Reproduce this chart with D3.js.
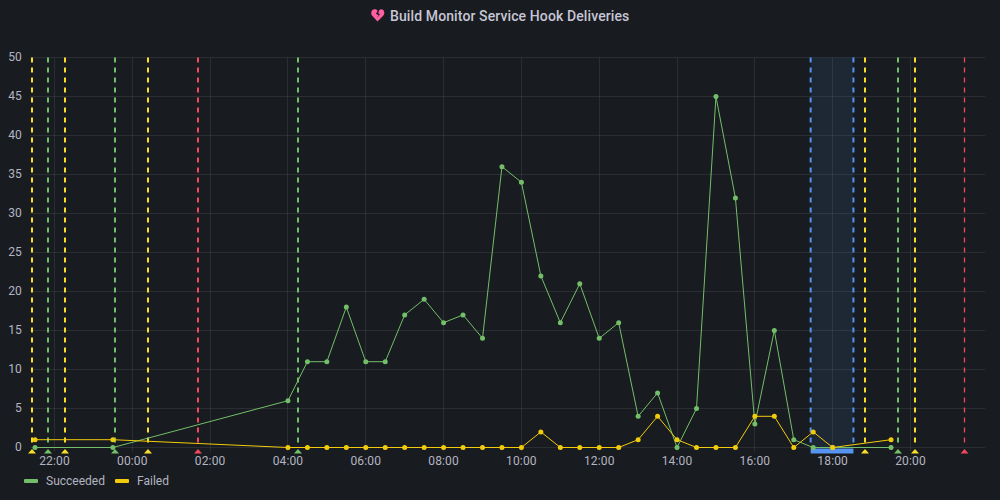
<!DOCTYPE html>
<html>
<head>
<meta charset="utf-8">
<script src="https://d3js.org/d3.v7.min.js"></script>
<style>
  html, body { margin: 0; padding: 0; background: #181b1f; }
  svg { display: block; }
  text { font-family: Roboto, sans-serif; }
  .title { fill: #c6c6d6; font-size: 14px; font-weight: 500; letter-spacing: 0.11px; }
  .tick-label { font-size: 12px; fill: #b4b5c2; letter-spacing: 0.15px; }
  .legend { font-size: 12px; fill: #b4b5c2; }
</style>
</head>
<body>
<svg id="chart" width="1000" height="500"></svg>
<script>
const titleText = 'Build Monitor Service Hook Deliveries';

// half hour buckets, the gaps are real (nothing was delivered overnight)
const times = [
  '21:30', '23:30', '04:00', '04:30', '05:00', '05:30', '06:00', '06:30',
  '07:00', '07:30', '08:00', '08:30', '09:00', '09:30', '10:00', '10:30',
  '11:00', '11:30', '12:00', '12:30', '13:00', '13:30', '14:00', '14:30',
  '15:00', '15:30', '16:00', '16:30', '17:00', '17:30', '18:00', '19:30'
];
const succeeded = [
  0, 0, 6, 11, 11, 18, 11, 11,
  17, 19, 16, 17, 14, 36, 34, 22,
  16, 21, 14, 16, 4, 7, 0, 5,
  45, 32, 3, 15, 1, 0, 0, 0
];
const failed = [
  1, 1, 0, 0, 0, 0, 0, 0,
  0, 0, 0, 0, 0, 0, 0, 2,
  0, 0, 0, 0, 1, 4, 1, 0,
  0, 0, 4, 4, 0, 2, 0, 1
];

const yTicks = [0, 5, 10, 15, 20, 25, 30, 35, 40, 45, 50];
const xTicks = ['22:00', '00:00', '02:00', '04:00', '06:00', '08:00', '10:00', '12:00', '14:00', '16:00', '18:00', '20:00'];

// annotations: time + kind
const annotationTimes = ['21:25', '21:50', '22:16', '23:33', '00:24', '01:42', '04:16', '18:50', '19:41', '20:07', '21:24+'];
const annotationKinds = ['warn', 'ok', 'warn', 'ok', 'warn', 'bad', 'ok', 'warn', 'ok', 'warn', 'bad'];
const regionStart = '17:26';
const regionEnd = '18:32';

const colors = { ok: '#73bf69', warn: '#fade2a', bad: '#f2495c', region: '#5794f2', failed: '#f2cc0c' };

const drawChart = () => {
  const svg = d3.select('#chart');
  const margin = { top: 57.5, left: 30, right: 985, bottom: 447.5 };

  // first day starts at 21:00, anything before that hour belongs to the next day
  function parseTime(s) {
    const next = s.endsWith('+');
    const [h, m] = s.replace('+', '').split(':').map(Number);
    const day = (h >= 21 && !next) ? 1 : 2;
    return new Date(2021, 0, day, h, m);
  }

  const xScale = d3.scaleTime()
    .domain([parseTime('22:00'), parseTime('20:00')])
    .range([54.5, 910.5]);
  const xLeft = margin.left;
  const xRight = margin.right;
  const crisp = v => Math.floor(v) + 0.5;

  const yScale = d3.scaleLinear()
    .domain([0, 50])
    .range([margin.bottom, margin.top]);

  // gridlines
  const grid = svg.append('g').attr('stroke', 'rgba(204,204,220,0.1)').attr('stroke-width', 1);
  grid.selectAll('.h').data(yTicks).join('line')
    .attr('x1', xLeft).attr('x2', xRight)
    .attr('y1', d => crisp(yScale(d))).attr('y2', d => crisp(yScale(d)));
  grid.selectAll('.v').data(xTicks).join('line')
    .attr('x1', d => crisp(xScale(parseTime(d)))).attr('x2', d => crisp(xScale(parseTime(d))))
    .attr('y1', margin.top).attr('y2', margin.bottom + 4);

  // axes labels
  svg.append('g').selectAll('text').data(yTicks).join('text')
    .attr('class', 'tick-label')
    .attr('x', 22).attr('y', d => yScale(d) + 3)
    .attr('text-anchor', 'end')
    .text(d => d);
  svg.append('g').selectAll('text').data(xTicks).join('text')
    .attr('class', 'tick-label')
    .attr('x', d => xScale(parseTime(d))).attr('y', 465)
    .attr('text-anchor', 'middle')
    .text(d => d);

  // region annotation
  const rx0 = xScale(parseTime(regionStart));
  const rx1 = xScale(parseTime(regionEnd));
  svg.append('rect').attr('x', rx0).attr('y', margin.top).attr('width', rx1 - rx0).attr('height', margin.bottom - margin.top)
    .attr('fill', colors.region).attr('fill-opacity', 0.1);
  [rx0, rx1].forEach(x => {
    svg.append('line').attr('x1', x).attr('x2', x).attr('y1', margin.top).attr('y2', margin.bottom)
      .attr('stroke', colors.region).attr('stroke-width', 2).attr('stroke-dasharray', '5,5');
  });
  svg.append('rect').attr('x', rx0).attr('y', 448.5).attr('width', rx1 - rx0).attr('height', 5).attr('fill', colors.region);

  // point annotations, the last one is drawn thinner in the panel
  const lastAnn = annotationTimes.length - 1;
  const annX = (d, i) => i === lastAnn ? crisp(xScale(parseTime(d))) : Math.round(xScale(parseTime(d)));
  const ann = svg.append('g').selectAll('g').data(annotationTimes).join('g');
  ann.append('line')
    .attr('x1', annX).attr('x2', annX)
    .attr('y1', margin.top).attr('y2', margin.bottom)
    .attr('stroke', (d, i) => colors[annotationKinds[i]])
    .attr('stroke-width', (d, i) => i === lastAnn ? 1.3 : 2)
    .attr('stroke-dasharray', '5,5');
  ann.append('path')
    .attr('d', 'M-4,4.5 L0,0 L4,4.5 Z')
    .attr('transform', (d, i) => `translate(${annX(d, i)},449)`)
    .attr('fill', (d, i) => colors[annotationKinds[i]]);

  // series
  const line = d3.line()
    .x((d, i) => xScale(parseTime(times[i])))
    .y(d => yScale(d))
    .curve(d3.curveLinear);

  function drawSeries(values, color) {
    svg.append('path')
      .attr('d', line(values))
      .attr('fill', 'none')
      .attr('stroke', color)
      .attr('stroke-width', 1);
    svg.append('g').selectAll('circle').data(values).join('circle')
      .attr('cx', (d, i) => xScale(parseTime(times[i])))
      .attr('cy', d => yScale(d))
      .attr('r', 2.5)
      .attr('fill', color);
  }
  drawSeries(succeeded, colors.ok);
  drawSeries(failed, colors.failed);

  // title + panel icon
  svg.append('path')
    .attr('transform', 'translate(371,9)')
    .attr('d', 'M6.5 12.5 L1 6.5 C-0.8 4 0.8 0.3 3.6 0.3 C4.8 0.3 5.7 0.8 6.6 1.7 L5 5 L7.6 6 L6 9 L9 5.3 L7.2 4.3 L8.3 1 C9 0.5 9.7 0.3 10.2 0.3 C13 0.3 14.4 4 12.4 6.5 Z')
    .attr('fill', '#ff5fa2');
  svg.append('text').attr('class', 'title').attr('x', 390).attr('y', 21).text(titleText);

  // legend
  const legend = [['Succeeded', colors.ok, 24, 46], ['Failed', colors.failed, 115, 137]];
  legend.forEach(([label, color, x0, xt]) => {
    svg.append('rect').attr('x', x0).attr('y', 479).attr('width', 14).attr('height', 4).attr('rx', 1).attr('fill', color);
    svg.append('text').attr('class', 'legend').attr('x', xt).attr('y', 485).text(label);
  });
};

drawChart();
</script>
</body>
</html>
